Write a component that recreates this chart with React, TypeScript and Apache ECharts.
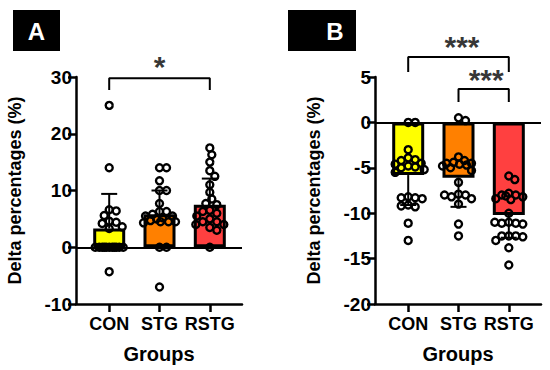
import React, { useEffect, useRef } from "react";
import * as echarts from "echarts";

const categories = ["CON", "STG", "RSTG"];
const barColors = ["#FFFF00", "#FF8000", "#FF4040"];

// Panel A
const meanA = [3.3, 5.8, 7.5];
const sdA = [6.1, 4.2, 4.6];
const pointsA_CON = [25, 14, 6.6, 6.4, 5.6, 4.6, 4.4, 4.2, 3.6, 3.3, 0, 0, 0, 0, 0, 0, 0, 0, 0, 0, 0, -4.3];
const pointsA_STG = [14, 14, 11.7, 10, 10, 7.7, 6.3, 6.3, 5.8, 5.5, 5.5, 5.2, 5.0, 4.7, 4.5, 4.5, 4.3, 4.5, 0, 0, -7];
const pointsA_RSTG = [17.5, 16.3, 15, 13.5, 12.5, 11, 9.7, 8.5, 7.7, 7.5, 6.5, 6.3, 6, 5.5, 5, 4.5, 4.5, 4, 4, 3.5, 3, 0];
const ticksA = { min: -10, max: 30, interval: 10 };

// Panel B
const meanB = [-5.8, -6.1, -10.2];
const sdB = [3.3, 3.2, 2.5];
const pointsB_CON = [0, 0, -3.0, -3.9, -4.1, -4.2, -4.5, -4.6, -4.8, -4.9, -5.0, -5.2, -5.5, -8.2, -8.3, -8.3, -8.4, -9.1, -9.3, -9.2, -11.1, -13.0];
const pointsB_STG = [0.5, 0.2, -3.8, -4.2, -4.4, -4.5, -4.5, -4.6, -4.7, -4.8, -5.0, -5.3, -6.6, -7.9, -8.0, -8.2, -8.4, -8.0, -9.0, -11.2, -12.5];
const pointsB_RSTG = [-5.9, -6.3, -7.8, -8.0, -8.0, -8.2, -8.4, -8.5, -8.1, -10.0, -11.0, -11.1, -11.1, -11.2, -11.0, -12.5, -12.5, -12.5, -12.6, -13.0, -13.8, -15.7];
const ticksB = { min: -20, max: 5, interval: 5 };

// significance annotations
const sigA = [{ from: 1, to: 3, top: 29.8, drop: 27.7, starX: 2, starY: 31.8, text: "*" }];
const sigB = [
  { from: 1, to: 3, top: 7.2, drop: 5.55, starX: 2.07, starY: 8.33, text: "***" },
  { from: 2, to: 3, top: 3.67, drop: 2.25, starX: 2.55, starY: 4.71, text: "***" },
];

const FONT = "'Liberation Sans', Arial, Helvetica, sans-serif";
const X_MIN = 0.34;
const X_MAX = 3.64;
const GRID_W = 166;
const GRID_H = 227;
const PX_X = GRID_W / (X_MAX - X_MIN);

function swarm(vals: number[], center: number, pxY: number, diam: number, maxHalf: number) {
  const placed: [number, number][] = [];
  const out: number[][] = [];
  for (const v of vals) {
    const y = v * pxY;
    let best = 0;
    let bestScore = -Infinity;
    for (let k = 0; k <= 2 * maxHalf; k++) {
      const off = (k % 2 === 1 ? 1 : -1) * Math.ceil(k / 2);
      let minD = Infinity;
      for (const [px, py] of placed) {
        const d = Math.hypot(px - off, py - y);
        if (d < minD) minD = d;
      }
      if (minD >= diam) {
        best = off;
        break;
      }
      if (minD > bestScore) {
        bestScore = minD;
        best = off;
      }
    }
    placed.push([best, y]);
    out.push([center + best / PX_X, v]);
  }
  return out;
}

function panel(
  idx: number,
  left: number,
  means: number[],
  sds: number[],
  groups: number[][],
  ticks: { min: number; max: number; interval: number },
  sig: any[],
  dir: number
) {
  const pxY = GRID_H / (ticks.max - ticks.min);
  const grid = { left, top: 77, width: GRID_W, height: GRID_H, containLabel: false };
  const xAxis = {
    gridIndex: idx,
    type: "value",
    min: X_MIN,
    max: X_MAX,
    name: "Groups",
    nameLocation: "middle",
    nameGap: 40,
    nameTextStyle: { fontSize: 20, fontWeight: "bold", color: "#000", fontFamily: FONT },
    axisLine: { onZero: false, lineStyle: { color: "#000", width: 2.5 } },
    axisTick: { show: true, customValues: [1, 2, 3], length: 8, lineStyle: { color: "#000", width: 2.5 } },
    axisLabel: {
      customValues: [1, 2, 3],
      formatter: (v: number) => categories[Math.round(v) - 1] || "",
      fontSize: 18,
      fontWeight: "bold",
      color: "#000",
      fontFamily: FONT,
      margin: 11,
    },
    splitLine: { show: false },
  };
  const yAxis = {
    gridIndex: idx,
    type: "value",
    min: ticks.min,
    max: ticks.max,
    interval: ticks.interval,
    name: "Delta percentages (%)",
    nameLocation: "middle",
    nameGap: 52,
    nameTextStyle: { fontSize: 18, fontWeight: "bold", color: "#000", fontFamily: FONT },
    axisLine: { show: true, lineStyle: { color: "#000", width: 2.5 } },
    axisTick: { show: true, length: 8, lineStyle: { color: "#000", width: 2.5 } },
    axisLabel: { fontSize: 19, fontWeight: "bold", color: "#000", fontFamily: FONT, margin: 4 },
    splitLine: { show: false },
  };
  const series: any[] = [
    {
      type: "bar",
      xAxisIndex: idx,
      yAxisIndex: idx,
      barWidth: 32,
      z: 1,
      data: means.map((m, i) => ({ value: [i + 1, m], itemStyle: { color: barColors[i] } })),
      itemStyle: { borderColor: "#000", borderWidth: 3 },
      markLine: {
        silent: true,
        symbol: "none",
        label: { show: false },
        lineStyle: { color: "#000", width: 2, type: "solid" },
        data: [{ yAxis: 0 }],
      },
    },
    {
      type: "custom",
      xAxisIndex: idx,
      yAxisIndex: idx,
      z: 2,
      data: means.map((m, i) => [i + 1, m, m + dir * sds[i]]),
      encode: { x: 0, y: [1, 2] },
      renderItem: (params: any, api: any) => {
        const p0 = api.coord([api.value(0), api.value(1)]);
        const p1 = api.coord([api.value(0), api.value(2)]);
        const st = { stroke: "#000", lineWidth: 2 };
        return {
          type: "group",
          children: [
            { type: "line", shape: { x1: p0[0], y1: p0[1], x2: p1[0], y2: p1[1] }, style: st },
            { type: "line", shape: { x1: p1[0] - 8, y1: p1[1], x2: p1[0] + 8, y2: p1[1] }, style: st },
          ],
        };
      },
    },
  ];
  groups.forEach((g, i) => {
    series.push({
      type: "scatter",
      xAxisIndex: idx,
      yAxisIndex: idx,
      z: 3,
      symbol: "circle",
      symbolSize: 7,
      itemStyle: { color: "rgba(0,0,0,0)", borderColor: "#000", borderWidth: 2.4, opacity: 1 },
      data: swarm(g, i + 1, pxY, 7, 16),
    });
  });
  sig.forEach((s) => {
    series.push({
      type: "line",
      xAxisIndex: idx,
      yAxisIndex: idx,
      clip: false,
      symbol: "none",
      lineStyle: { color: "#000", width: 2 },
      data: [
        [s.from, s.drop],
        [s.from, s.top],
        [s.to, s.top],
        [s.to, s.drop],
      ],
    });
    series.push({
      type: "scatter",
      xAxisIndex: idx,
      yAxisIndex: idx,
      clip: false,
      symbolSize: 0,
      label: {
        show: true,
        position: "inside",
        formatter: s.text,
        fontSize: 30,
        fontWeight: "bold",
        color: "#000",
        fontFamily: FONT,
      },
      data: [[s.starX, s.starY]],
    });
  });
  return { grid, xAxis, yAxis, series };
}

export default function App() {
  const ref = useRef<HTMLDivElement>(null);
  useEffect(() => {
    if (!ref.current) return;
    const chart = echarts.init(ref.current, undefined, { renderer: "svg" });
    const a = panel(0, 76, meanA, sdA, [pointsA_CON, pointsA_STG, pointsA_RSTG], ticksA, sigA, 1);
    const b = panel(1, 375, meanB, sdB, [pointsB_CON, pointsB_STG, pointsB_RSTG], ticksB, sigB, -1);
    chart.setOption({
      animation: false,
      backgroundColor: "#fff",
      grid: [a.grid, b.grid],
      xAxis: [a.xAxis, b.xAxis],
      yAxis: [a.yAxis, b.yAxis],
      series: [...a.series, ...b.series],
      graphic: [
        { type: "rect", shape: { x: 13, y: 10, width: 47, height: 41 }, style: { fill: "#000" } },
        {
          type: "text",
          x: 36.5,
          y: 31,
          style: { text: "A", fill: "#fff", fontSize: 24, fontWeight: "bold", fontFamily: FONT, align: "center", verticalAlign: "middle" },
        },
        { type: "rect", shape: { x: 288, y: 10, width: 68, height: 41 }, style: { fill: "#000" } },
        {
          type: "text",
          x: 335,
          y: 31,
          style: { text: "B", fill: "#fff", fontSize: 24, fontWeight: "bold", fontFamily: FONT, align: "center", verticalAlign: "middle" },
        },
      ],
    });
    return () => chart.dispose();
  }, []);
  return (
    <div
      ref={ref}
      style={{ position: "fixed", left: 0, top: 0, width: 550, height: 370, background: "#fff" }}
    />
  );
}
